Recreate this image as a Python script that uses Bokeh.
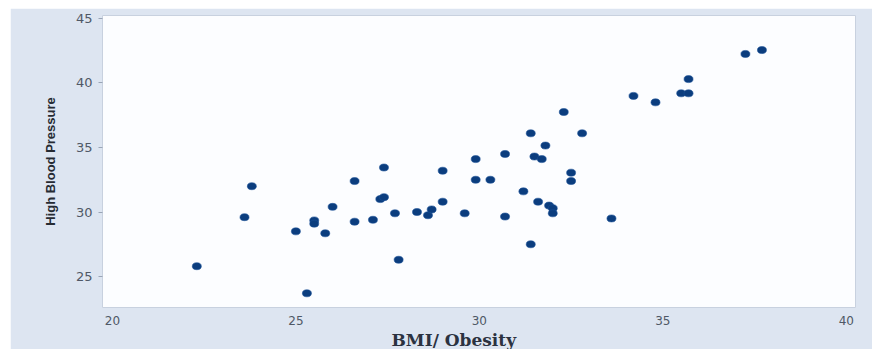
from bokeh.plotting import figure
from bokeh.models import ColumnDataSource, FixedTicker, Range1d, Title
from bokeh.embed import file_html
from bokeh.resources import INLINE

# BMI / obesity rate vs high blood pressure rate
bmi = [22.3, 23.6, 23.8, 25.0, 25.3, 25.5, 25.5, 25.8, 26.0, 26.6,
       26.6, 27.1, 27.3, 27.4, 27.4, 27.7, 27.8, 28.3, 28.6, 28.7,
       29.0, 29.0, 29.6, 29.9, 29.9, 30.3, 30.7, 30.7, 31.2, 31.4,
       31.4, 31.5, 31.7, 31.8, 31.6, 31.9, 32.0, 32.0, 32.3, 32.5,
       32.5, 32.8, 33.6, 34.2, 34.8, 35.5, 35.7, 35.7, 37.25, 37.7]
hbp = [25.8, 29.6, 32.0, 28.5, 23.7, 29.35, 29.1, 28.35, 30.4, 32.4,
       29.25, 29.4, 31.0, 31.15, 33.45, 29.9, 26.3, 30.0, 29.75, 30.2,
       30.8, 33.2, 29.9, 34.1, 32.5, 32.5, 34.5, 29.65, 31.6, 36.1,
       27.5, 34.3, 34.1, 35.15, 30.8, 30.5, 30.3, 29.9, 37.75, 33.05,
       32.4, 36.1, 29.5, 39.0, 38.5, 39.2, 39.2, 40.3, 42.25, 42.55]

x_ticks = [20, 25, 30, 35, 40]
y_ticks = [25, 30, 35, 40, 45]

source = ColumnDataSource(data=dict(bmi=bmi, hbp=hbp))

p = figure(width=862, height=341, output_backend="svg", toolbar_location=None,
           x_range=Range1d(19.73, 40.25), y_range=Range1d(22.6, 45.23),
           min_border_left=92, min_border_right=17, min_border_top=7,
           min_border_bottom=42)
p.margin = (8, 0, 0, 10)

p.background_fill_color = "#fcfdff"
p.border_fill_color = "#dde5f1"
p.outline_line_color = "#c8d1df"
p.outline_line_width = 1
p.xgrid.grid_line_color = None
p.ygrid.grid_line_color = None

p.ellipse(x="bmi", y="hbp", width=9, height=7, width_units="screen",
          height_units="screen", source=source,
          fill_color="#0b3d7e", line_color="#1a4f96", line_width=0.6)

# x axis: ticks and labels, no tick marks
xa = p.xaxis[0]
xa.ticker = FixedTicker(ticks=x_ticks)
xa.axis_line_color = None
xa.major_tick_line_color = None
xa.minor_tick_line_color = None
xa.major_label_standoff = 2
xa.major_label_text_font = "DejaVu Sans"
xa.major_label_text_font_size = "12px"
xa.major_label_text_color = "#4f5866"

# y axis
ya = p.yaxis[0]
ya.ticker = FixedTicker(ticks=y_ticks)
ya.axis_line_color = None
ya.major_tick_line_color = "#9aa5b6"
ya.major_tick_in = 0
ya.major_tick_out = 4
ya.minor_tick_line_color = None
ya.major_label_standoff = 6
ya.major_label_text_font = "DejaVu Sans"
ya.major_label_text_font_size = "13px"
ya.major_label_text_color = "#4f5866"
ya.axis_label = "High Blood Pressure"
ya.axis_label_text_font = "Liberation Sans"
ya.axis_label_text_font_size = "13px"
ya.axis_label_text_font_style = "bold"
ya.axis_label_text_color = "#262b33"
ya.axis_label_standoff = 15

# x-axis caption, set off to the left of centre
xt = Title(text="BMI/ Obesity", align="left", offset=289, standoff=0,
           text_font="DejaVu Serif", text_font_size="17px",
           text_font_style="bold", text_color="#2b3240")
p.add_layout(xt, "below")

open("out.html", "w").write(file_html(p, INLINE))
